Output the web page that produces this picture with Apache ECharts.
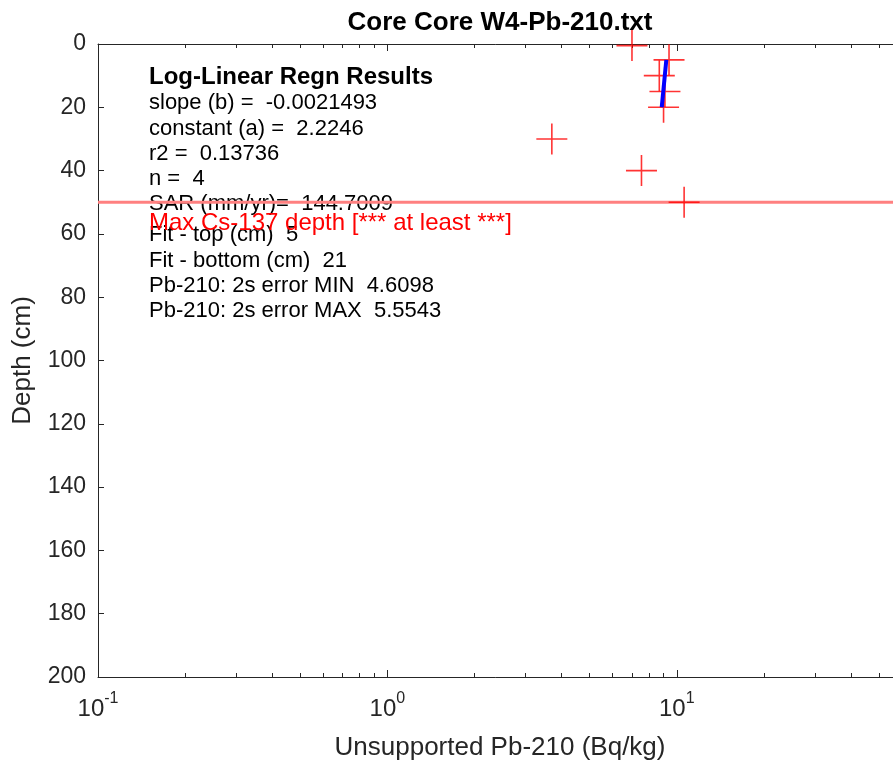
<!DOCTYPE html>
<html><head><meta charset="utf-8">
<script src="https://cdn.jsdelivr.net/npm/echarts@6/dist/echarts.min.js"></script>
<style>html,body{margin:0;padding:0;background:#fff}#c{width:893px;height:762px}</style>
</head><body><div id="c"></div>
<script>
// ---- data ----
const depths   = [0.5, 5, 10, 15, 20, 30, 40, 50];
const activity = [7.0, 9.4, 8.7, 9.1, 9.0, 3.7, 7.55, 10.6];
const fitDepths   = [5, 20];
const fitActivity = [9.2, 8.87];
const csDepth = 50;
const xRange = [0.1, 60];
const yRange = [0, 200];
const xMajorTicks = [0.1, 1, 10];
const xMinorTicks = [0.2,0.3,0.4,0.5,0.6,0.7,0.8,0.9,2,3,4,5,6,7,8,9,20,30,40,50];
const titleText = 'Core Core W4-Pb-210.txt';
const xName = 'Unsupported Pb-210 (Bq/kg)';
const yName = 'Depth (cm)';
const statsTitle = 'Log-Linear Regn Results';
const statsLines = [
  'slope (b) =  -0.0021493',
  'constant (a) =  2.2246',
  'r2 =  0.13736',
  'n =  4',
  'SAR (mm/yr)=  144.7009',
  'Fit - top (cm)  5',
  'Fit - bottom (cm)  21',
  'Pb-210: 2s error MIN  4.6098',
  'Pb-210: 2s error MAX  5.5543'
];
const csLabel = 'Max Cs-137 depth [*** at least ***]';

// ---- layout / style ----
const FF = '"Liberation Sans", Arial, Helvetica, sans-serif';
const AX = '#262626';
const statsY = [102.5, 128.5, 153.7, 178.8, 203.5, 235, 260.5, 286.3, 311.3];

const chart = echarts.init(document.getElementById('c'), null, {renderer: 'canvas'});

function xAxisBase(pos, ticks, len, showLine, labels) {
  return {
    type: 'log', logBase: 10, position: pos,
    min: xRange[0], max: xRange[1],
    axisLine: {show: showLine, onZero: false, lineStyle: {color: AX, width: 1}},
    axisTick: {show: true, inside: true, length: len, customValues: ticks, lineStyle: {color: AX, width: 1}},
    splitLine: {show: false}, minorTick: {show: false}, minorSplitLine: {show: false},
    axisLabel: labels ? {
      show: true, customValues: xMajorTicks, margin: 14,
      formatter: v => '{b|10}{s|' + Math.round(Math.log10(v)) + '}',
      rich: {
        b: {fontSize: 24, fontFamily: FF, color: AX},
        s: {fontSize: 16, fontFamily: FF, color: AX, padding: [0, 0, 20, 0]}
      }
    } : {show: false}
  };
}

const xAxes = [
  Object.assign(xAxisBase('bottom', xMajorTicks, 7, true, true), {
    name: xName, nameLocation: 'middle', nameGap: 58,
    nameTextStyle: {fontSize: 26, fontFamily: FF, color: AX}
  }),
  xAxisBase('bottom', xMinorTicks, 4, false, false),
  xAxisBase('top', xMajorTicks, 7, true, false),
  xAxisBase('top', xMinorTicks, 4, false, false)
];

const option = {
  animation: false,
  backgroundColor: '#fff',
  grid: {left: 98, top: 44, right: -9, bottom: 85, containLabel: false, outerBoundsMode: 'none'},
  xAxis: xAxes,
  yAxis: [{
    type: 'value', inverse: true, min: yRange[0], max: yRange[1], interval: 20,
    position: 'left',
    name: yName, nameLocation: 'middle', nameGap: 62,
    nameTextStyle: {fontSize: 26, fontFamily: FF, color: AX},
    axisLine: {show: true, onZero: false, lineStyle: {color: AX, width: 1}},
    axisTick: {show: true, inside: true, length: 6, lineStyle: {color: AX}},
    splitLine: {show: false},
    axisLabel: {fontSize: 23, fontFamily: FF, color: AX, margin: 12}
  }],
  series: [
    {
      type: 'line', name: 'cs', silent: true, clip: true,
      data: [[xRange[0], csDepth], [xRange[1], csDepth]],
      showSymbol: false, symbol: 'none',
      lineStyle: {color: '#ff8080', width: 3}, z: 3
    },
    {
      type: 'scatter', name: 'pb', silent: true, clip: false,
      data: depths.map((d, i) => [activity[i], d]),
      symbol: 'path://M15 0L15 30M0 15L30 15', symbolSize: 31,
      itemStyle: {color: 'transparent', borderColor: '#ff0000', borderWidth: 1.6}, z: 4
    },
    {
      type: 'line', name: 'fit', silent: true,
      data: fitDepths.map((d, i) => [fitActivity[i], d]),
      showSymbol: false, symbol: 'none',
      lineStyle: {color: '#0000ff', width: 4}, z: 5
    }
  ],
  graphic: [
    {type: 'text', x: 500, y: 23, z: 10,
     style: {text: titleText, font: 'bold 26px ' + FF, fill: '#000', textAlign: 'center', align: 'center', textVerticalAlign: 'middle', verticalAlign: 'middle'}},
    {type: 'text', x: 149, y: 77.2, z: 0,
     style: {text: statsTitle, font: 'bold 24px ' + FF, fill: '#000', textAlign: 'left', align: 'left', textVerticalAlign: 'middle', verticalAlign: 'middle'}}
  ].concat(statsLines.map((t, i) => ({
    type: 'text', x: 149, y: statsY[i], z: 0,
    style: {text: t, font: '22px ' + FF, fill: '#000', textAlign: 'left', align: 'left', textVerticalAlign: 'middle', verticalAlign: 'middle'}
  }))).concat([
    {type: 'text', x: 149, y: 223, z: 1,
     style: {text: csLabel, font: '24px ' + FF, fill: '#ff0000', textAlign: 'left', align: 'left', textVerticalAlign: 'middle', verticalAlign: 'middle'}}
  ])
};
chart.setOption(option);
</script>
</body></html>
